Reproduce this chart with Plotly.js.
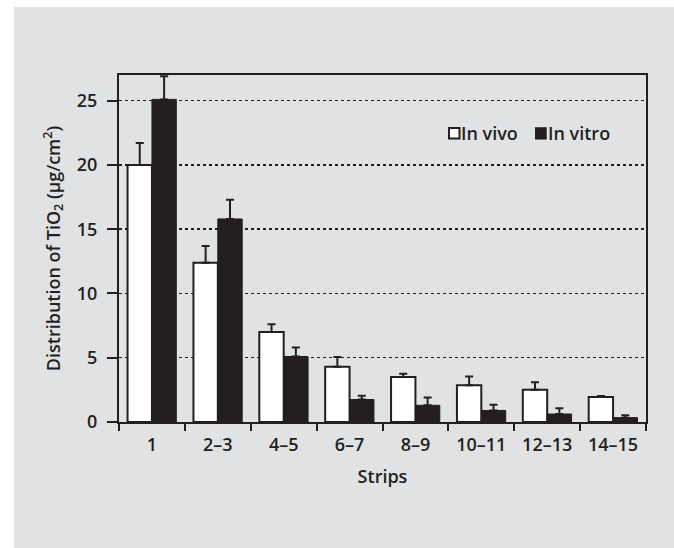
<!DOCTYPE html>
<html>
<head>
<meta charset="utf-8">
<script src="https://cdn.plot.ly/plotly-3.0.1.min.js"></script>
<style>
  html, body { margin: 0; padding: 0; background: #ffffff; width: 674px; height: 548px; overflow: hidden; }
  #chart { position: absolute; left: 14px; top: 7px; width: 660px; height: 541px; }
</style>
</head>
<body>
<div id="chart"></div>
<script>
// ---- Data ----
const categories = ['1', '2–3', '4–5', '6–7', '8–9', '10–11', '12–13', '14–15'];
const inVivo     = [20.0, 12.4, 7.0, 4.3, 3.5, 2.85, 2.5, 1.95];
const inVivoErr  = [1.7, 1.3, 0.6, 0.75, 0.25, 0.7, 0.6, 0.08];
const inVitro    = [25.1, 15.8, 5.1, 1.75, 1.3, 0.9, 0.62, 0.34];
const inVitroErr = [1.8, 1.5, 0.7, 0.3, 0.6, 0.45, 0.45, 0.18];
const yTicks     = [0, 5, 10, 15, 20, 25];
const seriesNames = ['In vivo', 'In vitro'];

const ink = '#231f20';
const bg = '#e1e2e4';
const fontFam = '"Open Sans", "Noto Sans", sans-serif';
const txtFont = { family: fontFam, size: 18, color: ink, weight: 600 };
const zeros = categories.map(() => 0);

const traces = [
  {
    type: 'bar', name: seriesNames[0], x: categories, y: inVivo, showlegend: false,
    marker: { color: '#ffffff', line: { color: ink, width: 2 } },
    error_y: { type: 'data', symmetric: false, array: inVivoErr, arrayminus: zeros, color: ink, thickness: 2, width: 4 }
  },
  {
    type: 'bar', name: seriesNames[1], x: categories, y: inVitro, showlegend: false,
    marker: { color: ink, line: { color: ink, width: 1 } },
    error_y: { type: 'data', symmetric: false, array: inVitroErr, arrayminus: zeros, color: ink, thickness: 2, width: 4 }
  }
];

// Legend drawn as swatches + labels, placed as in the reference
const layout = {
  width: 660, height: 541,
  margin: { l: 105, r: 28, t: 68, b: 126, pad: 0 },
  paper_bgcolor: bg, plot_bgcolor: bg,
  font: txtFont,
  barmode: 'group', bargap: 0.26, bargroupgap: 0,
  showlegend: false,
  shapes: [
    { type: 'rect', xref: 'paper', yref: 'paper', x0: 0.6262, x1: 0.6461, y0: 0.817, y1: 0.8475,
      fillcolor: '#ffffff', line: { color: ink, width: 2 } },
    { type: 'rect', xref: 'paper', yref: 'paper', x0: 0.7894, x1: 0.8116, y0: 0.814, y1: 0.8495,
      fillcolor: ink, line: { color: ink, width: 0 } }
  ],
  annotations: [
    { xref: 'paper', yref: 'paper', x: 0.647, y: 0.834, xanchor: 'left', yanchor: 'middle',
      text: seriesNames[0], showarrow: false, font: txtFont, borderpad: 0 },
    { xref: 'paper', yref: 'paper', x: 0.8125, y: 0.834, xanchor: 'left', yanchor: 'middle',
      text: seriesNames[1], showarrow: false, font: txtFont, borderpad: 0 }
  ],
  xaxis: {
    type: 'category', range: [-0.5, 7.5], tickson: 'boundaries',
    ticks: 'outside', ticklen: 7, tickwidth: 2, tickcolor: ink,
    showline: true, linecolor: ink, linewidth: 2, mirror: true,
    showgrid: false, zeroline: false, ticklabelstandoff: 5,
    tickfont: txtFont,
    title: { text: 'Strips', standoff: 16, font: txtFont }
  },
  yaxis: {
    range: [0, 27], tickvals: yTicks, ticktext: yTicks.map(String),
    ticks: 'outside', ticklen: 10, tickwidth: 2, tickcolor: ink,
    showline: true, linecolor: ink, linewidth: 2, mirror: true,
    showgrid: true, gridcolor: ink, gridwidth: 1.5, griddash: '3px,3px',
    zeroline: false, ticklabelstandoff: 6,
    tickfont: txtFont,
    title: { text: 'Distribution of TiO<sub>2</sub> (µg/cm<sup>2</sup>)', standoff: 12, font: txtFont }
  }
};

Plotly.newPlot('chart', traces, layout, { displayModeBar: false, staticPlot: true });
</script>
</body>
</html>
